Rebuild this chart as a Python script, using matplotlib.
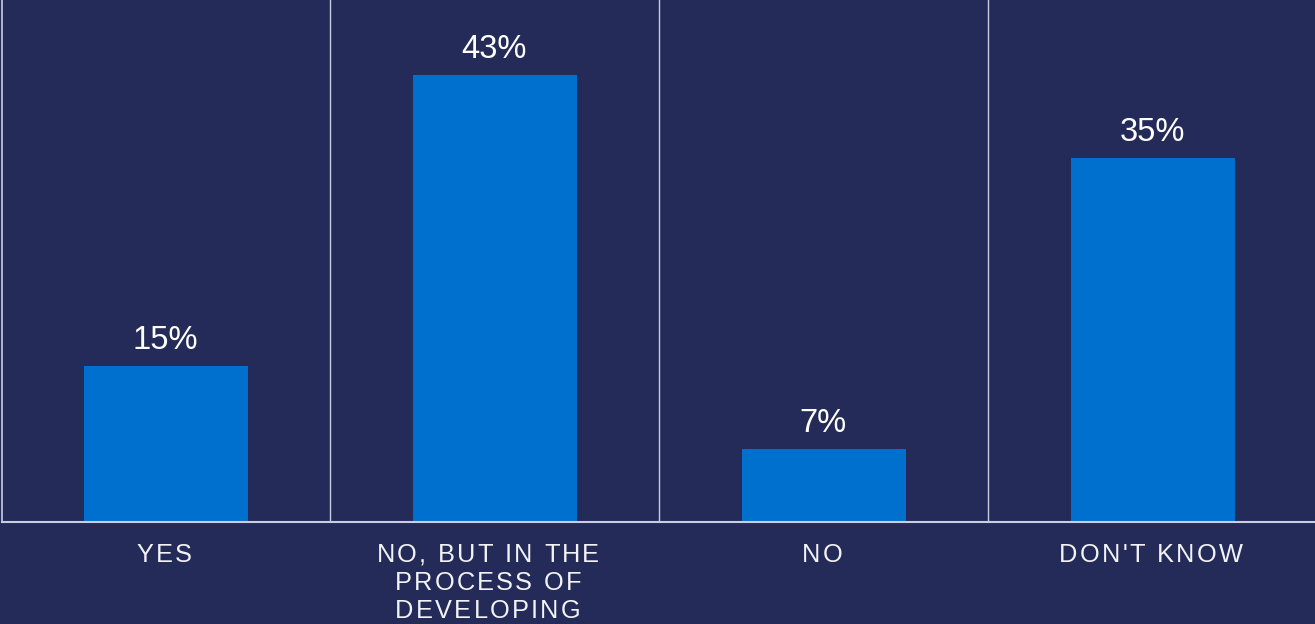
import matplotlib
matplotlib.use("Agg")
import matplotlib.pyplot as plt
from matplotlib import transforms
from matplotlib.font_manager import FontProperties, findfont, get_font

categories = ["YES", "NO, BUT IN THE\nPROCESS OF\nDEVELOPING", "NO", "DON'T KNOW"]
values = [15, 43, 7, 35]
value_labels = ["15%", "43%", "7%", "35%"]

BG = "#252B58"
BAR = "#0070CE"
LINE = "#C9CEE2"
FAMILY = "Liberation Sans"

plt.rcParams['font.family'] = [FAMILY, 'DejaVu Sans']

fig = plt.figure(figsize=(13.15, 6.24), dpi=100)
fig.patch.set_facecolor(BG)
ax = fig.add_axes([1.5 / 1315, 102 / 624, 1316 / 1315, 522 / 624])
ax.set_facecolor(BG)

x = list(range(len(categories)))
ax.bar(x, values, width=0.5, color=BAR, zorder=2)
ax.set_xlim(-0.5, len(categories) - 0.5)
ax.set_ylim(0, 50.2)

for s in ["top", "right"]:
    ax.spines[s].set_visible(False)
ax.spines["left"].set_color(LINE)
ax.spines["left"].set_linewidth(1.2)
ax.spines["bottom"].set_color(LINE)
ax.spines["bottom"].set_linewidth(1.5)
ax.set_xticks([])
ax.set_yticks([])

for i in range(1, len(categories)):
    ax.axvline(i - 0.5, color=LINE, lw=1.0, zorder=1)

for xi, v, lab in zip(x, values, value_labels):
    ax.annotate(lab, (xi, v), xytext=(-0.5, 12.2), textcoords="offset points",
                ha="center", va="baseline", color="white", fontsize=23.5,
                family=FAMILY)

# letter-spaced category labels
size = 18.3
spacing = 1.65  # points between letters
font = get_font(findfont(FontProperties(family=FAMILY)))
font.set_size(size, 72)
try:
    from matplotlib.ft2font import LoadFlags
    flags = LoadFlags.NO_HINTING
except Exception:
    flags = 2


def adv(c):
    g = font.load_char(ord(c), flags=flags)
    return g.linearHoriAdvance / 65536


base = ax.get_xaxis_transform()
first_baseline = 28.8  # points below axis
line_pitch = 20.2
for xi, cat in zip(x, categories):
    lines = cat.split("\n")
    shift = -1.5 - (3.6 if len(lines) > 1 else 0.0)
    for li, line in enumerate(lines):
        widths = [adv(c) for c in line]
        total = sum(widths) + spacing * (len(line) - 1)
        pos = -total / 2 + shift
        for c, w in zip(line, widths):
            tr = transforms.offset_copy(base, fig=fig, x=pos,
                                        y=-(first_baseline + li * line_pitch),
                                        units="points")
            ax.text(xi, 0, c, transform=tr, ha="left", va="baseline",
                    fontsize=size, color="#F2F3F7", family=FAMILY,
                    clip_on=False)
            pos += w + spacing

fig.savefig("out.png", dpi=100, facecolor=BG)
